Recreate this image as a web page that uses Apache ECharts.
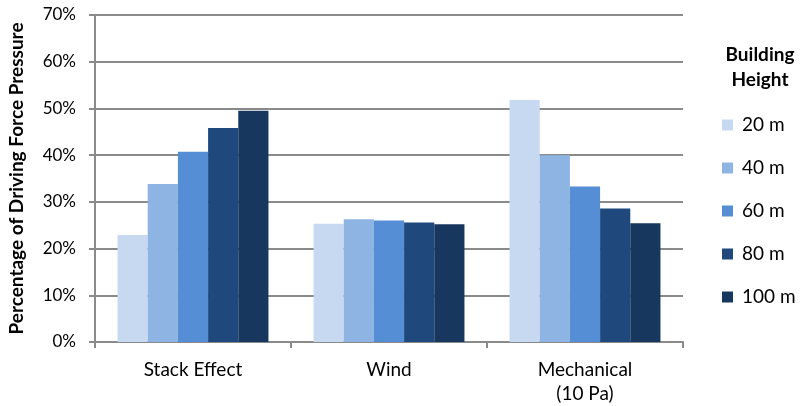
<!DOCTYPE html>
<html>
<head>
<meta charset="utf-8">
<script src="https://cdn.jsdelivr.net/npm/echarts@6/dist/echarts.min.js"></script>
<style>
  html, body { margin: 0; padding: 0; background: #fff; }
  #barCharts { width: 805px; height: 406px; }
</style>
</head>
<body>
<div id="barCharts"></div>
<script>
  // categories on the x axis
  var categories = ['Stack Effect', 'Wind', 'Mechanical\n(10 Pa)'];
  // building height series
  var seriesNames = ['20 m', '40 m', '60 m', '80 m', '100 m'];
  var colors = ['#C6D9F1', '#8EB4E3', '#558ED5', '#1F497D', '#17375E'];
  // values in % for each height
  var h20 = [22.9, 25.3, 51.8];
  var h40 = [33.8, 26.3, 40.0];
  var h60 = [40.7, 26.0, 33.3];
  var h80 = [45.8, 25.6, 28.6];
  var h100 = [49.5, 25.2, 25.4];
  var yTicks = [0, 10, 20, 30, 40, 50, 60, 70];

  var allValues = [h20, h40, h60, h80, h100];
  var fontName = 'Lato';
  var gray = '#8a8a8a';

  var barCharts = echarts.init(document.getElementById('barCharts'));

  var series = seriesNames.map(function (name, i) {
    return {
      name: name,
      type: 'bar',
      barGap: '0%',
      barCategoryGap: '23%',
      itemStyle: { color: colors[i] },
      data: allValues[i]
    };
  });

  var option = {
    animation: false,
    color: colors,
    textStyle: { fontFamily: fontName, color: '#000' },
    title: {
      text: 'Building\nHeight',
      left: 755,
      top: 37,
      textAlign: 'center',
      textStyle: { fontFamily: fontName, fontSize: 19, fontWeight: 'bold', lineHeight: 25, color: '#000' }
    },
    legend: {
      orient: 'vertical',
      left: 717,
      top: 110,
      itemWidth: 11,
      itemHeight: 11,
      itemGap: 23,
      icon: 'rect',
      data: seriesNames,
      textStyle: { fontFamily: fontName, fontSize: 19, lineHeight: 20, color: '#000', padding: [0, 0, 0, 4] }
    },
    grid: {
      left: 95,
      right: 122,
      top: 15,
      bottom: 64,
      outerBoundsMode: 'none'
    },
    xAxis: {
      type: 'category',
      data: categories,
      axisLine: { lineStyle: { color: gray, width: 2 } },
      axisTick: { show: true, length: 6, lineStyle: { color: gray, width: 2 } },
      axisLabel: { fontFamily: fontName, fontSize: 19, color: '#000', margin: 16, lineHeight: 24 }
    },
    yAxis: {
      type: 'value',
      min: yTicks[0],
      max: yTicks[yTicks.length - 1],
      interval: 10,
      name: 'Percentage of Driving Force Pressure',
      nameLocation: 'middle',
      nameRotate: 90,
      nameGap: 69,
      nameTextStyle: { fontFamily: fontName, fontSize: 19, fontWeight: 'bold', color: '#000' },
      axisLine: { show: true, lineStyle: { color: gray, width: 2 } },
      axisTick: { show: true, length: 6, lineStyle: { color: gray, width: 2 } },
      axisLabel: {
        fontFamily: fontName, fontSize: 17, color: '#000', margin: 19,
        formatter: function (v) { return v + '%'; }
      },
      splitLine: { show: true, lineStyle: { color: gray, width: 2 } }
    },
    series: series
  };
  barCharts.setOption(option);
</script>
</body>
</html>
